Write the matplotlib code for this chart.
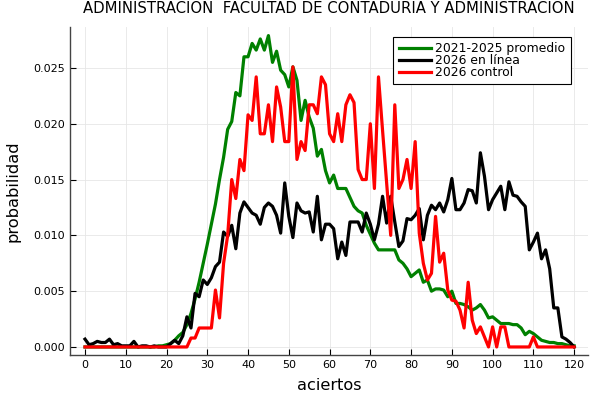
import matplotlib
matplotlib.use("Agg")
import matplotlib.pyplot as plt
import numpy as np

aciertos = list(range(0, 121))

promedio = [0, 0, 0, 0, 0, 0, 0, 0, 0, 0,
            0, 0, 0, 0, 0, 0, 0, 0, 0.0001, 0.0001,
            0.0002, 0.0003, 0.0006, 0.0010, 0.0013, 0.0020, 0.0030, 0.0043, 0.0058, 0.0075,
            0.0092, 0.0110, 0.0128, 0.0150, 0.0170, 0.0195, 0.0202, 0.0228, 0.0225, 0.0260,
            0.0260, 0.0272, 0.0266, 0.0276, 0.0266, 0.0279, 0.0255, 0.0265, 0.0248, 0.0244,
            0.0233, 0.0251, 0.0239, 0.0203, 0.0221, 0.0206, 0.0196, 0.0171, 0.0177, 0.0158,
            0.0147, 0.0154, 0.0142, 0.0142, 0.0142, 0.0134, 0.0126, 0.0122, 0.0120, 0.0109,
            0.0101, 0.0093, 0.0087, 0.0087, 0.0087, 0.0087, 0.0087, 0.0078, 0.0075, 0.0070,
            0.0063, 0.0066, 0.0069, 0.0058, 0.0060, 0.0050, 0.0052, 0.0052, 0.0051, 0.0045,
            0.0050, 0.0039, 0.0039, 0.0038, 0.0036, 0.0033, 0.0035, 0.0038, 0.0033, 0.0026,
            0.0027, 0.0024, 0.0021, 0.0021, 0.0021, 0.0020, 0.0020, 0.0017, 0.0011, 0.0014,
            0.0012, 0.0009, 0.0006, 0.0005, 0.0004, 0.0004, 0.0003, 0.0003, 0.0002, 0.0001,
            0.0001]

en_linea = [0.0007, 0.0002, 0.0003, 0.0005, 0.0004, 0.0004, 0.0007, 0.0002, 0.0003, 0.0001,
            0.0001, 0.0001, 0.0005, 0.0, 0.0001, 0.0001, 0.0, 0.0001, 0.0, 0.0,
            0.0, 0.0003, 0.0006, 0.0003, 0.0010, 0.0027, 0.0017, 0.0048, 0.0045, 0.0060,
            0.0056, 0.0062, 0.0072, 0.0076, 0.0103, 0.0099, 0.0109, 0.0088, 0.0120, 0.0130,
            0.0125, 0.0120, 0.0118, 0.0110, 0.0125, 0.0129, 0.0126, 0.0118, 0.0102, 0.0147,
            0.0117, 0.0098, 0.0129, 0.0122, 0.0120, 0.0121, 0.0103, 0.0135, 0.0096, 0.0110,
            0.0110, 0.0106, 0.0079, 0.0094, 0.0082, 0.0112, 0.0112, 0.0112, 0.0103, 0.0120,
            0.0110, 0.0096, 0.0110, 0.0135, 0.0111, 0.0135, 0.0112, 0.0090, 0.0095, 0.0115,
            0.0114, 0.0118, 0.0124, 0.0096, 0.0118, 0.0127, 0.0123, 0.0129, 0.0121, 0.0132,
            0.0151, 0.0123, 0.0123, 0.0129, 0.0141, 0.0140, 0.0129, 0.0174, 0.0153, 0.0123,
            0.0132, 0.0138, 0.0144, 0.0123, 0.0148, 0.0136, 0.0135, 0.0130, 0.0126, 0.0087,
            0.0094, 0.0102, 0.0079, 0.0087, 0.0070, 0.0035, 0.0035, 0.0009, 0.0007, 0.0004,
            0.0]

control = [0, 0, 0, 0, 0, 0, 0, 0, 0, 0,
           0, 0, 0, 0, 0, 0, 0, 0, 0, 0,
           0, 0, 0, 0, 0, 0, 0.0008, 0.0008, 0.0017, 0.0017,
           0.0017, 0.0017, 0.0051, 0.0026, 0.0075, 0.0100, 0.0150, 0.0133, 0.0168, 0.0158,
           0.0208, 0.0203, 0.0242, 0.0191, 0.0191, 0.0217, 0.0184, 0.0233, 0.0215, 0.0184,
           0.0184, 0.0251, 0.0168, 0.0184, 0.0176, 0.0217, 0.0217, 0.0209, 0.0242, 0.0235,
           0.0191, 0.0184, 0.0209, 0.0184, 0.0217, 0.0226, 0.0219, 0.0159, 0.0150, 0.0150,
           0.0200, 0.0142, 0.0242, 0.0194, 0.0147, 0.0100, 0.0217, 0.0142, 0.0150, 0.0168,
           0.0142, 0.0184, 0.0102, 0.0075, 0.0060, 0.0066, 0.0117, 0.0076, 0.0084, 0.0051,
           0.0042, 0.0041, 0.0033, 0.0017, 0.0058, 0.0024, 0.0012, 0.0018, 0.0009, 0.0,
           0.0018, 0.0, 0.0018, 0.0018, 0.0, 0.0, 0.0, 0.0, 0.0, 0.0,
           0.0009, 0.0, 0.0, 0.0, 0.0, 0.0, 0.0, 0.0, 0.0, 0.0,
           0.0]

labels = ["2021-2025 promedio", "2026 en línea", "2026 control"]
colors = ["#008000", "#000000", "#ff0000"]
xticks = list(range(0, 121, 10))
yticks = [0.000, 0.005, 0.010, 0.015, 0.020, 0.025]

fig = plt.figure(figsize=(6, 4), dpi=100)
ax = fig.add_axes([70/600, 45/400, 518/600, 328/400])

for ys, lab, c in zip([promedio, en_linea, control], labels, colors):
    ax.plot(aciertos, ys, color=c, lw=2.3, label=lab, solid_joinstyle="round")

ax.set_xlim(-3.68, 123.4)
ax.set_ylim(-0.00072, 0.02867)
ax.set_xticks(xticks)
ax.set_yticks(yticks)
ax.set_yticklabels([f"{v:.3f}" for v in yticks])
ax.tick_params(direction="in", length=4, labelsize=8, width=0.8, colors="black")
ax.grid(True, color="#e6e6e6", lw=0.6)
ax.set_axisbelow(True)
for s in ["top", "right"]:
    ax.spines[s].set_visible(False)
for s in ["left", "bottom"]:
    ax.spines[s].set_color("#444444")
    ax.spines[s].set_linewidth(1.0)

ax.set_xlabel("aciertos", fontsize=11.6, labelpad=6)
ax.set_ylabel("probabilidad", fontsize=11.7, labelpad=9)
ax.set_title("ADMINISTRACION  FACULTAD DE CONTADURIA Y ADMINISTRACION", fontsize=10.7, pad=10)

leg = ax.legend(loc="upper right", bbox_to_anchor=(0.967, 0.97), fontsize=8.9,
                frameon=True, fancybox=False, edgecolor="black", framealpha=1,
                labelspacing=-0.1, handlelength=2.6, borderpad=0.45, handletextpad=0.35,
                borderaxespad=0)
leg.get_frame().set_linewidth(0.8)

fig.savefig("out.png", dpi=100)
